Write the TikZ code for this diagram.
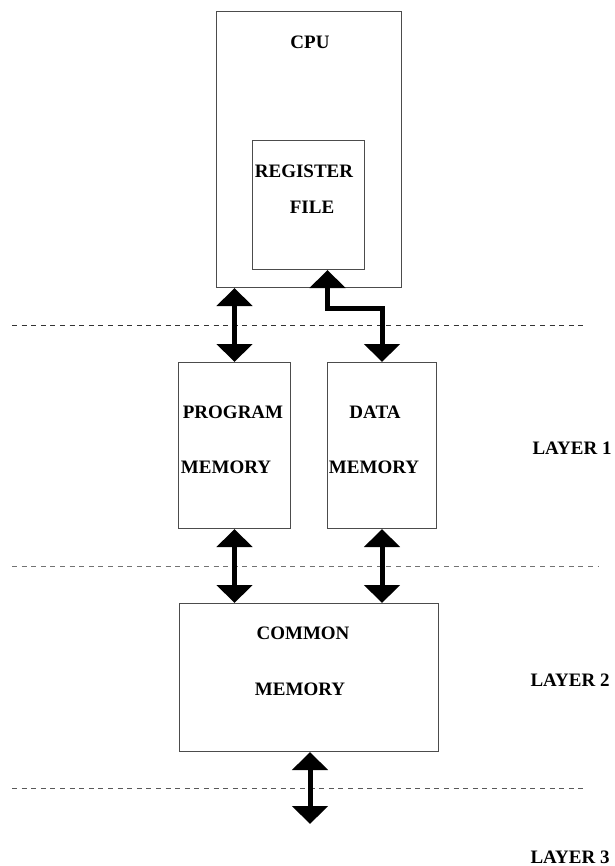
\documentclass[tikz,border=0pt]{standalone}
\usepackage{fontspec}
\setmainfont{Liberation Serif}
\usetikzlibrary{arrows.meta,calc}
\begin{document}
\begin{tikzpicture}[x=1pt,y=-1pt,
  blockbox/.style={draw=black!70,line width=1pt,inner sep=0pt,anchor=north west},
  lbl/.style={font=\fontsize{19}{23}\selectfont\bfseries,inner sep=0pt,text=black},
  bus/.style={line width=5pt,{Triangle[width=35pt,length=18pt]}-{Triangle[width=35pt,length=18pt]}},
  busdown/.style={line width=5pt,-{Triangle[width=35pt,length=18pt]}},
  layerline/.style={dash pattern=on 5pt off 4.6pt,line width=1pt}]
\useasboundingbox (0,0) rectangle (614,866);

% CPU and its register file
\node[blockbox,minimum width=185pt,minimum height=276pt] (cpu) at (216,11) {};
\node[blockbox,minimum width=112pt,minimum height=129pt] (reg) at (252,140) {};
\node[lbl] (cpulbl) at (310,42) {CPU};
\node[lbl] (reglbl1) at (304,171) {REGISTER};
\node[lbl] (reglbl2) at (312,207) {FILE};

% layer 1 memories
\node[blockbox,minimum width=112pt,minimum height=166pt] (pmem) at (178,362) {};
\node[blockbox,minimum width=109pt,minimum height=166pt] (dmem) at (327,362) {};
\node[lbl] (pmlbl1) at (233,412) {PROGRAM};
\node[lbl] (pmlbl2) at (226,467) {MEMORY};
\node[lbl] (dmlbl1) at (375,412) {DATA};
\node[lbl] (dmlbl2) at (374,467) {MEMORY};

% layer 2 memory
\node[blockbox,minimum width=259pt,minimum height=148pt] (cmem) at (179,603) {};
\node[lbl] (cmlbl1) at (303,633) {COMMON};
\node[lbl] (cmlbl2) at (300,689) {MEMORY};

% layer labels
\node[lbl] (l1) at (572,448) {LAYER 1};
\node[lbl] (l2) at (570,680) {LAYER 2};
\node[lbl] (l3) at (570,857) {LAYER 3};

% layer boundaries
\coordinate (d1a) at (12,325);  \coordinate (d1b) at (586,325);
\coordinate (d2a) at (12,566);  \coordinate (d2b) at (598,566);
\coordinate (d3a) at (12,788);  \coordinate (d3b) at (587,788);
\draw[layerline,black!80] (d1a) -- (d1b);
\draw[layerline,black!55] (d2a) -- (d2b);
\draw[layerline,black!65] (d3a) -- (d3b);

% buses
\draw[bus] (cpu.south -| pmem.north) -- (pmem.north);
\coordinate (regport) at ([xshift=19pt]reg.south);
\draw[bus] (regport) -- ($(regport)+(0,38)$) -| (dmem.north);
\draw[bus] (pmem.south) -- (cmem.north -| pmem.south);
\draw[bus] (dmem.south) -- (cmem.north -| dmem.south);
\coordinate (ext) at (310,824);
\draw[bus] (cmem.south -| ext) -- (ext);
\end{tikzpicture}
\end{document}
